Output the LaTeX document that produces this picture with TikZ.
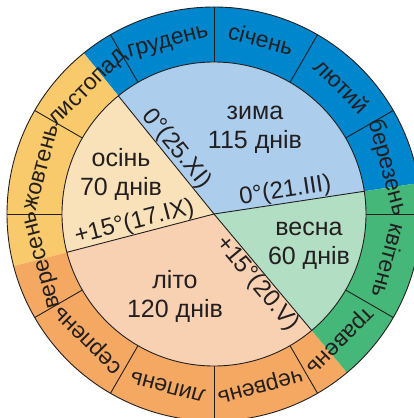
\documentclass[tikz,border=0pt]{standalone}
\usepackage{fontspec}
\setmainfont{Liberation Sans}
\usepackage{tikz}

\definecolor{winterdark}{RGB}{0,134,204}
\definecolor{winterlight}{RGB}{173,205,236}
\definecolor{springdark}{RGB}{69,183,120}
\definecolor{springlight}{RGB}{178,222,196}
\definecolor{summerdark}{RGB}{245,168,98}
\definecolor{summerlight}{RGB}{248,209,179}
\definecolor{autumndark}{RGB}{248,202,107}
\definecolor{autumnlight}{RGB}{249,226,185}
\definecolor{inkline}{RGB}{35,31,32}

\begin{document}
\begin{tikzpicture}[
    x=1pt, y=1pt,
    seasonlabel/.style={align=center, text=inkline, font=\fontsize{25}{29}\selectfont},
    monthlabel/.style={anchor=base, text=inkline, inner sep=0pt, font=\fontsize{23}{27}\selectfont},
    degreelabel/.style={text=inkline, inner sep=0.5pt, font=\fontsize{24}{28}\selectfont},
    divline/.style={draw=inkline, line width=0.9pt}
]
\useasboundingbox (-214,-204) rectangle (200,214);
\clip (-214,-204) rectangle (200,214);

\foreach \s/\e/\dk/\lt in {8.6/129/winterdark/winterlight, 129/194.6/autumndark/autumnlight,
    194.6/310/summerdark/summerlight, 310/368.6/springdark/springlight}{
  \fill[\dk] (0,0) -- (\s:207) arc[start angle=\s, end angle=\e, radius=207pt] -- cycle;
  \fill[\lt] (0,0) -- (\s:152) arc[start angle=\s, end angle=\e, radius=152pt] -- cycle;
}

\foreach \a in {0,30,...,330}
  \draw[divline] (\a:152) -- (\a:207);
\foreach \a in {8.6,129,194.6,310}
  \draw[divline] (0,0) -- (\a:152);
\draw[divline] (0,0) circle[radius=152pt];
\draw[divline] (0,0) circle[radius=207pt];

\foreach \m [count=\i, evaluate=\i as \a using 30*\i-15] in
    {березень,лютий,січень,грудень,листопад,жовтень,вересень,серпень,липень,червень,травень,квітень}
  \node[monthlabel, rotate=\a-90] (month\i) at (\a:173) {\m};

\node[seasonlabel] (winter) at (41,84) {зима\\115 днів};
\node[seasonlabel] (autumn) at (-93,40) {осінь\\70 днів};
\node[seasonlabel] (spring) at (95,-32) {весна\\60 днів};
\node[seasonlabel] (summer) at (-39,-82) {літо\\120 днів};

\node[degreelabel, anchor=south, rotate=-51] (winterstart) at (129:74) {0°(25.XI)};
\node[degreelabel, anchor=south, rotate=8.6] (springstart) at (8.6:74) {0°(21.III)};
\node[degreelabel, anchor=south, rotate=14.6] (autumnstart) at (194.6:79) {+15°(17.IX)};
\node[degreelabel, anchor=north, rotate=-50] (summerstart) at (310:81) {+15°(20.V)};
\end{tikzpicture}
\end{document}
